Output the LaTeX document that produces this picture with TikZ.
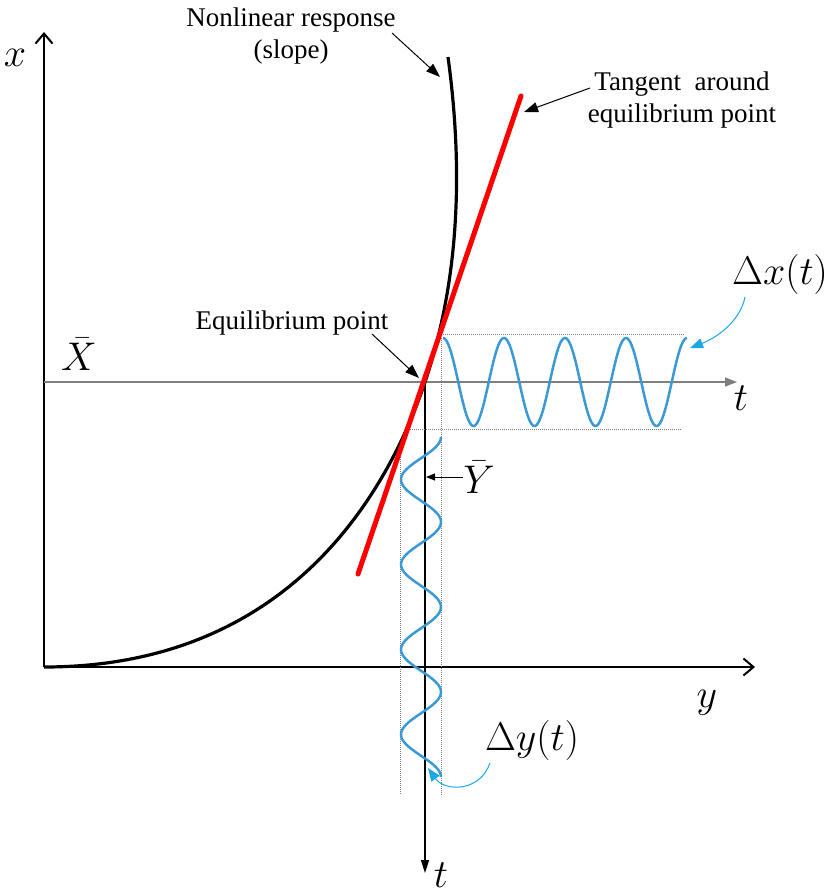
\RequirePackage{fix-cm}
\documentclass[tikz,border=0pt]{standalone}
\usepackage{fontspec}
\setmainfont{Liberation Serif}
\usetikzlibrary{arrows.meta}
\definecolor{wave}{HTML}{3B9AD6}
\definecolor{skyline}{HTML}{19A7EA}
\definecolor{axisgray}{HTML}{7F7F7F}

\begin{document}
\begin{tikzpicture}[x=1pt,y=-1pt,
  note/.style={font=\fontsize{27}{32}\selectfont,align=center,inner sep=0pt},
  lab/.style={font=\fontsize{40}{40}\selectfont,inner sep=0pt},
  axis/.style={line width=2pt,-{Straight Barb[length=10pt,width=17pt]}},
  guide/.style={densely dotted,axisgray,line width=1pt},
  pointer/.style={line width=1pt,-{Triangle[length=14pt,width=10pt]}},
  bluepointer/.style={skyline,line width=1pt,-{Triangle[length=13pt,width=10pt]}},
  osc/.style={wave,line width=2.5pt,samples=200}]
\useasboundingbox (0,0) rectangle (833,895);
% axes
\coordinate (O) at (44,667);
\coordinate (xend) at (44,32);
\coordinate (yend) at (755,667);
\coordinate (eq) at (425,382);
\coordinate (xb0) at (44,382);
\coordinate (xb1) at (737,382);
\coordinate (tend) at (425,873);
\draw[axis] (O) -- (xend);
\draw[axis] (O) -- (yend);
\draw[axisgray,line width=1.5pt,-{Triangle[length=12pt,width=9pt]}] (xb0) -- (xb1);
\draw[line width=1.5pt,-{Triangle[length=13pt,width=8pt]}] (eq) -- (tend);
\node[lab] (xl) at (15,58) {$x$};
\node[lab] (yl) at (707,703) {$y$};
\node[lab] (th) at (741,398) {$t$};
\node[lab] (tv) at (441,875) {$t$};
\node[lab] (xbar) at (79,354) {$\bar{X}$};
\node[lab] (ybar) at (479,477) {$\bar{Y}$};
% amplitude guides
\coordinate (gt0) at (443,334); \coordinate (gt1) at (685,334);
\coordinate (gb0) at (410,429); \coordinate (gb1) at (682,429);
\coordinate (gl0) at (400,441); \coordinate (gl1) at (400,795);
\coordinate (gr0) at (441,338); \coordinate (gr1) at (441,795);
\draw[guide] (gt0) -- (gt1);
\draw[guide] (gb0) -- (gb1);
\draw[guide] (gl0) -- (gl1);
\draw[guide] (gr0) -- (gr1);
% response and tangent
\coordinate (ctop) at (448,57);
\draw[line width=3.2pt] (O) .. controls (300,667) and (393,477) .. (eq)
  .. controls (460,278) and (463,167) .. (ctop);
\coordinate (rt0) at (358,574);
\coordinate (rt1) at (521,96);
\draw[red,line width=5pt,line cap=round] (rt0) -- (rt1);
% oscillations
\draw[osc] plot[domain=443:687] (\x,{382-44*cos(360/61*(\x-443))});
\draw[osc] plot[domain=437:777] ({421+20*cos(360/85*(\x-437))},\x);
% notes
\node[note] (nl) at (291,36) {Nonlinear response\\(slope)};
\node[note] (tg) at (682,100) {Tangent\ \ around\\equilibrium point};
\node[note] (ep) at (292,323) {Equilibrium point};
\node[lab] (dx) at (780,274) {$\Delta x(t)$};
\node[lab] (dy) at (532,740) {$\Delta y(t)$};
\coordinate (nl0) at (392,33); \coordinate (nl1) at (440,77);
\coordinate (tg0) at (590,88); \coordinate (tg1) at (524,112);
\coordinate (ep0) at (372,334); \coordinate (ep1) at (419,378);
\coordinate (yb1) at (426,477);
\draw[pointer] (nl0) -- (nl1);
\draw[pointer] (tg0) -- (tg1);
\draw[pointer] (ep0) -- (ep1);
\draw[line width=1pt,-{Triangle[length=9pt,width=7pt]}] (ybar.west) -- (yb1);
\coordinate (dx0) at (745,297); \coordinate (dx1) at (690,348);
\coordinate (dy0) at (490,763); \coordinate (dy1) at (428,768);
\draw[bluepointer] (dx0) .. controls (740,322) and (716,338) .. (dx1);
\draw[bluepointer] (dy0) .. controls (480,792) and (445,792) .. (dy1);
\end{tikzpicture}
\end{document}
